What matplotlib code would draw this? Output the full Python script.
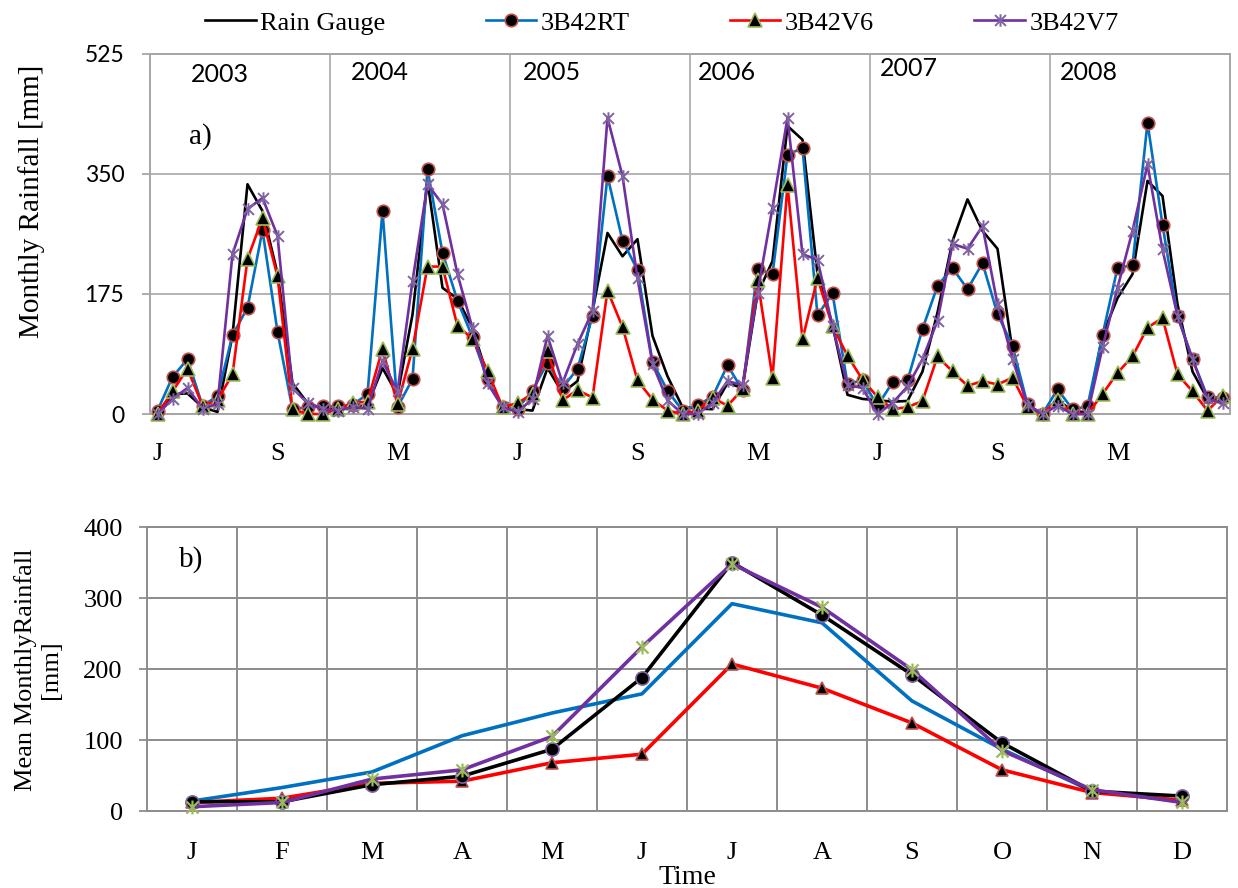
import numpy as np
import matplotlib
matplotlib.use("Agg")
import matplotlib.pyplot as plt
from matplotlib.path import Path

# ---------------- data ----------------
years = ["2003", "2004", "2005", "2006", "2007", "2008"]
top_tick_labels = ["J", "S", "M", "J", "S", "M", "J", "S", "M"]

gauge = [2, 29, 30, 10, 3, 115, 335, 296, 205, 45, 16, 8,
         7, 10, 13, 67, 28, 145, 340, 184, 168, 125, 55, 10,
         7, 5, 67, 31, 48, 150, 264, 230, 255, 114, 55, 10,
         8, 7, 45, 38, 175, 223, 420, 400, 204, 130, 28, 22,
         20, 18, 19, 62, 148, 252, 313, 267, 241, 92, 10, 0,
         20, 5, 2, 115, 169, 204, 340, 318, 160, 62, 22, 22]

rt = [5, 54, 80, 12, 26, 115, 155, 268, 120, 7, 10, 11,
      11, 13, 29, 296, 10, 51, 357, 235, 165, 112, 51, 10,
      8, 34, 75, 38, 66, 143, 347, 253, 210, 76, 34, 5,
      13, 25, 71, 35, 212, 204, 378, 388, 144, 176, 44, 49,
      12, 46, 49, 124, 187, 213, 182, 220, 146, 99, 14, 0,
      36, 7, 11, 115, 213, 217, 425, 276, 143, 80, 25, 24]

v6 = [0, 33, 66, 12, 20, 58, 226, 286, 201, 7, 0, 0,
      7, 16, 18, 95, 14, 95, 215, 215, 128, 110, 63, 10,
      16, 29, 92, 20, 35, 24, 180, 127, 49, 21, 5, 0,
      5, 24, 12, 36, 196, 53, 334, 109, 198, 128, 85, 50,
      25, 7, 10, 19, 84, 62, 41, 48, 43, 53, 10, 0,
      21, 0, 0, 29, 60, 84, 126, 140, 58, 33, 5, 26]

v7 = [0, 22, 38, 8, 15, 233, 299, 315, 260, 38, 16, 7,
      5, 10, 8, 77, 33, 194, 335, 306, 204, 125, 45, 10,
      3, 22, 114, 45, 102, 150, 432, 347, 198, 73, 20, 0,
      0, 16, 48, 42, 177, 301, 432, 233, 225, 128, 42, 38,
      0, 16, 40, 80, 136, 248, 241, 274, 160, 80, 13, 0,
      12, 0, 0, 97, 184, 267, 364, 240, 143, 80, 22, 16]

months = ["J", "F", "M", "A", "M", "J", "J", "A", "S", "O", "N", "D"]
gauge_mean = [13, 13, 37, 49, 87, 188, 350, 276, 192, 96, 28, 21]
rt_mean = [14, 33, 55, 106, 138, 165, 292, 265, 155, 87, 28, 14]
v6_mean = [12, 18, 39, 42, 68, 80, 207, 173, 124, 58, 26, 15]
v7_mean = [6, 12, 45, 58, 105, 231, 348, 287, 199, 85, 30, 12]

# ---------------- style ----------------
SERIF = "Liberation Serif"
SANS = "Lato"
W, H = 1238, 888
C_RT = "#0070C0"
C_V6 = "#FF0000"
C_V7 = "#7030A0"

star = Path([(-1, -1), (1, 1), (-1, 1), (1, -1), (0, -1.15), (0, 1.15)],
            [Path.MOVETO, Path.LINETO, Path.MOVETO, Path.LINETO,
             Path.MOVETO, Path.LINETO])

fig = plt.figure(figsize=(W / 100, H / 100), dpi=100)

# ---------------- panel a ----------------
ax1 = fig.add_axes([150 / W, 1 - 414 / H, 1080 / W, 360 / H])
x = np.arange(len(gauge))
lw = 1.9
ax1.plot(x, gauge, color="black", lw=lw, label="Rain Gauge", clip_on=False, zorder=3)
ax1.plot(x, rt, color=C_RT, lw=lw, marker="o", ms=9, mfc="black",
         mec="#C0504D", mew=1.2, label="3B42RT", clip_on=False, zorder=4)
ax1.plot(x, v6, color=C_V6, lw=lw, marker="^", ms=9.5, mfc="black",
         mec="#9BBB59", mew=1.2, label="3B42V6", clip_on=False, zorder=5)
ax1.plot(x, v7, color=C_V7, lw=lw, marker=star, ms=9, mfc="none",
         mec="#8064A2", mew=1.4, label="3B42V7", clip_on=False, zorder=6)

ax1.set_xlim(-0.5, len(gauge) - 0.5)
ax1.set_ylim(0, 525)
ax1.set_yticks([0, 175, 350, 525])
ax1.set_xticks(np.arange(0, len(gauge), 8))
ax1.set_xticklabels(top_tick_labels, fontfamily=SERIF, fontsize=19)
ax1.set_xticks(np.arange(11.5, len(gauge) - 1, 12), minor=True)
for lab in ax1.get_yticklabels():
    lab.set_fontfamily(SANS)
    lab.set_fontsize(16.5)
ax1.tick_params(axis="x", which="both", length=0, pad=21)
ax1.tick_params(axis="y", length=6, width=1.3, color="#a6a6a6", pad=12.5)
ax1.set_axisbelow(True)
ax1.grid(axis="y", which="major", color="#b3b3b3", lw=1.4)
ax1.grid(axis="x", which="minor", color="#b3b3b3", lw=1.4)
for s in ax1.spines.values():
    s.set_color("#a6a6a6")
    s.set_linewidth(1.4)

year_pos = [(220, 74), (380, 72), (552, 72), (727, 72), (909, 68), (1089, 72)]
for yr, (px, py) in zip(years, year_pos):
    fig.text(px / W, 1 - py / H, yr, ha="center", va="center",
             fontfamily=SANS, fontsize=18)

fig.text(200 / W, 1 - 137 / H, "a)", ha="center", va="center",
         fontfamily=SERIF, fontsize=21)
fig.text(32 / W, 1 - 201 / H, "Monthly Rainfall [mm]", rotation=90,
         ha="center", va="center", fontfamily=SERIF, fontsize=21)

# ---------------- panel b ----------------
ax2 = fig.add_axes([147 / W, 1 - 811 / H, 1080 / W, 284 / H])
mx = np.arange(len(months))
lw2 = 2.6
ax2.plot(mx, rt_mean, color=C_RT, lw=lw2, zorder=3)
ax2.plot(mx, v6_mean, color=C_V6, lw=lw2, marker="^", ms=9, mfc="black",
         mec="#C0504D", mew=1.2, zorder=4, clip_on=False)
ax2.plot(mx, gauge_mean, color="black", lw=lw2, marker="o", ms=9.5,
         mfc="black", mec="#8064A2", mew=1.2, zorder=5, clip_on=False)
ax2.plot(mx, v7_mean, color=C_V7, lw=lw2, marker=star, ms=10, mfc="none",
         mec="#9BBB59", mew=1.6, zorder=6, clip_on=False)

ax2.set_xlim(-0.5, len(months) - 0.5)
ax2.set_ylim(0, 400)
ax2.set_yticks([0, 100, 200, 300, 400])
ax2.set_xticks(mx)
ax2.set_xticklabels(months, fontfamily=SERIF, fontsize=19)
ax2.set_xticks(np.arange(0.5, len(months) - 1, 1), minor=True)
for lab in ax2.get_yticklabels():
    lab.set_fontfamily(SERIF)
    lab.set_fontsize(19)
ax2.tick_params(axis="x", which="both", length=0, pad=22)
ax2.tick_params(axis="y", length=6, width=1.3, color="#8c8c8c", pad=11.5)
ax2.set_axisbelow(True)
ax2.grid(axis="y", which="major", color="#8c8c8c", lw=1.4)
ax2.grid(axis="x", which="minor", color="#8c8c8c", lw=1.4)
for s in ax2.spines.values():
    s.set_color("#8c8c8c")
    s.set_linewidth(1.4)

fig.text(191 / W, 1 - 560 / H, "b)", ha="center", va="center",
         fontfamily=SERIF, fontsize=21)
fig.text(38 / W, 1 - 670 / H, "Mean MonthlyRainfall\n[mm]", rotation=90,
         ha="center", va="center", multialignment="center", linespacing=1.15,
         fontfamily=SERIF, fontsize=19)
fig.text(687 / W, 1 - 877 / H, "Time", ha="center", va="center",
         fontfamily=SERIF, fontsize=20)

# ---------------- legend ----------------
handles, labels = ax1.get_legend_handles_labels()
fig.legend(handles, labels, loc="center", bbox_to_anchor=(662 / W, 1 - 23 / H),
           ncol=4, frameon=False, prop={"family": SERIF, "size": 19},
           handlelength=1.9, handletextpad=0.18, columnspacing=3.8,
           borderaxespad=0, borderpad=0)

fig.savefig("out.png", dpi=100)
